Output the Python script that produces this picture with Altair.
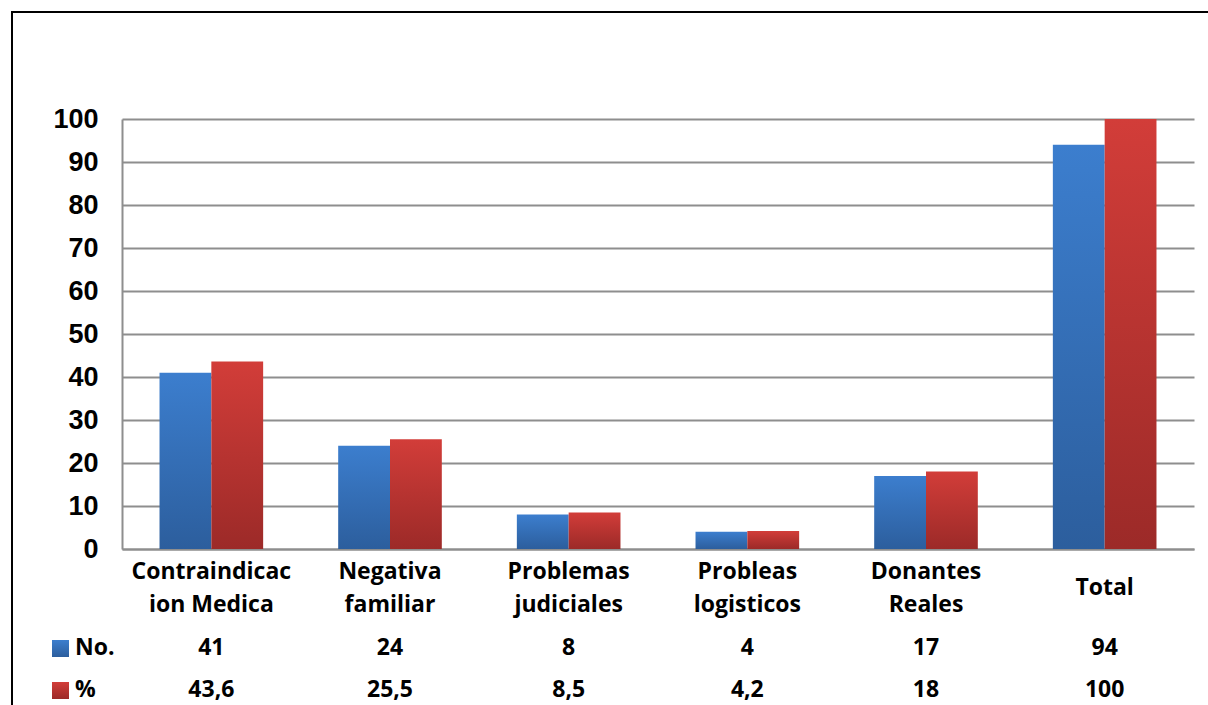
import altair as alt
import pandas as pd

categories = ["Contraindicacion Medica", "Negativa familiar", "Problemas judiciales",
              "Probleas logisticos", "Donantes Reales", "Total"]
cat_labels = ["Contraindicac\nion Medica", "Negativa\nfamiliar", "Problemas\njudiciales",
              "Probleas\nlogisticos", "Donantes\nReales", "Total"]
series = ["No.", "%"]
no_values = [41, 24, 8, 4, 17, 94]
pct_values = [43.6, 25.5, 8.5, 4.2, 18, 100]
no_labels = ["41", "24", "8", "4", "17", "94"]
pct_labels = ["43,6", "25,5", "8,5", "4,2", "18", "100"]

rows = []
for c, l, v, t in zip(categories, cat_labels, no_values, no_labels):
    rows.append({"cat": c, "lab": l, "series": "No.", "value": v, "txt": t})
for c, l, v, t in zip(categories, cat_labels, pct_values, pct_labels):
    rows.append({"cat": c, "lab": l, "series": "%", "value": v, "txt": t})
df = pd.DataFrame(rows)

blue_grad = alt.Gradient(gradient="linear", x1=0, x2=0, y1=0, y2=1,
                         stops=[alt.GradientStop(color="#3C7ECE", offset=0),
                                alt.GradientStop(color="#2C5E9D", offset=1)])
red_grad = alt.Gradient(gradient="linear", x1=0, x2=0, y1=0, y2=1,
                        stops=[alt.GradientStop(color="#D23D39", offset=0),
                               alt.GradientStop(color="#9C2A28", offset=1)])

LBL_FONT = "Open Sans"
LBL_SIZE = 23
GRID = "#8E8E8E"
LINE_H = 33

xenc = alt.X("cat:N", sort=categories,
             scale=alt.Scale(paddingInner=0.42, paddingOuter=0.21),
             axis=alt.Axis(labels=False, ticks=False, title=None, domainColor=GRID,
                           domainWidth=2))
yenc = alt.Y("value:Q", scale=alt.Scale(domain=[0, 100], nice=False),
             axis=alt.Axis(values=list(range(0, 101, 10)), title=None, ticks=False,
                           labelFont="Liberation Sans", labelFontWeight="bold",
                           labelFontSize=27, labelColor="black", labelPadding=24,
                           gridColor=GRID, gridWidth=1.8, domainColor=GRID, domainWidth=2))
xoff = alt.XOffset("series:N", sort=series, scale=alt.Scale(domain=series))

base = alt.Chart(df)
bars_no = base.transform_filter(alt.datum.series == "No.").mark_bar(color=blue_grad).encode(
    x=xenc, y=yenc, xOffset=xoff)
bars_pct = base.transform_filter(alt.datum.series == "%").mark_bar(color=red_grad).encode(
    x=xenc, y=yenc, xOffset=xoff)

cat_text = base.transform_filter(alt.datum.series == "No.").transform_calculate(
    ypix=f"469 - (length(split(datum.lab, '\\n')) - 1) * {LINE_H / 2}"
).mark_text(
    font=LBL_FONT, fontWeight="bold", fontSize=LBL_SIZE, lineBreak="\n", lineHeight=LINE_H,
    baseline="middle", align="center", color="black").encode(
    x=alt.X("cat:N", sort=categories), y=alt.Y("ypix:Q", scale=None), text="lab:N")

no_text = base.transform_filter(alt.datum.series == "No.").mark_text(
    font=LBL_FONT, fontWeight="bold", fontSize=LBL_SIZE, baseline="middle", align="center",
    color="black").encode(x=alt.X("cat:N", sort=categories), y=alt.value(529), text="txt:N")
pct_text = base.transform_filter(alt.datum.series == "%").mark_text(
    font=LBL_FONT, fontWeight="bold", fontSize=LBL_SIZE, baseline="middle", align="center",
    color="black").encode(x=alt.X("cat:N", sort=categories), y=alt.value(571), text="txt:N")

leg_df = pd.DataFrame({"series": series})
leg_blue = alt.Chart(leg_df).transform_filter(alt.datum.series == "No.").mark_rect(
    color=blue_grad).encode(x=alt.value(-70), x2=alt.value(-53), y=alt.value(521), y2=alt.value(538))
leg_red = alt.Chart(leg_df).transform_filter(alt.datum.series == "%").mark_rect(
    color=red_grad).encode(x=alt.value(-70), x2=alt.value(-53), y=alt.value(563), y2=alt.value(580))
leg_txt_no = alt.Chart(leg_df).transform_filter(alt.datum.series == "No.").mark_text(
    font=LBL_FONT, fontWeight="bold", fontSize=LBL_SIZE, align="left", baseline="middle",
    color="black").encode(x=alt.value(-47), y=alt.value(529), text="series:N")
leg_txt_pct = alt.Chart(leg_df).transform_filter(alt.datum.series == "%").mark_text(
    font=LBL_FONT, fontWeight="bold", fontSize=LBL_SIZE, align="left", baseline="middle",
    color="black").encode(x=alt.value(-47), y=alt.value(571), text="series:N")

border_left = alt.Chart(leg_df).transform_filter(alt.datum.series == "No.").mark_rule(
    color="black", strokeWidth=2).encode(x=alt.value(-110), y=alt.value(-107), y2=alt.value(600))
border_top = alt.Chart(leg_df).transform_filter(alt.datum.series == "No.").mark_rule(
    color="black", strokeWidth=2).encode(x=alt.value(-111), x2=alt.value(1100), y=alt.value(-107))

chart = alt.layer(bars_no, bars_pct, cat_text, no_text, pct_text,
                  leg_blue, leg_red, leg_txt_no, leg_txt_pct, border_left, border_top).properties(
    width=1072, height=430,
    autosize=alt.AutoSizeParams(type="none"),
    padding={"left": 122, "top": 119, "right": 14, "bottom": 156},
    background="white",
).configure_view(stroke=None)

chart.save("out.html", embed_options={"renderer": "svg", "actions": False})
